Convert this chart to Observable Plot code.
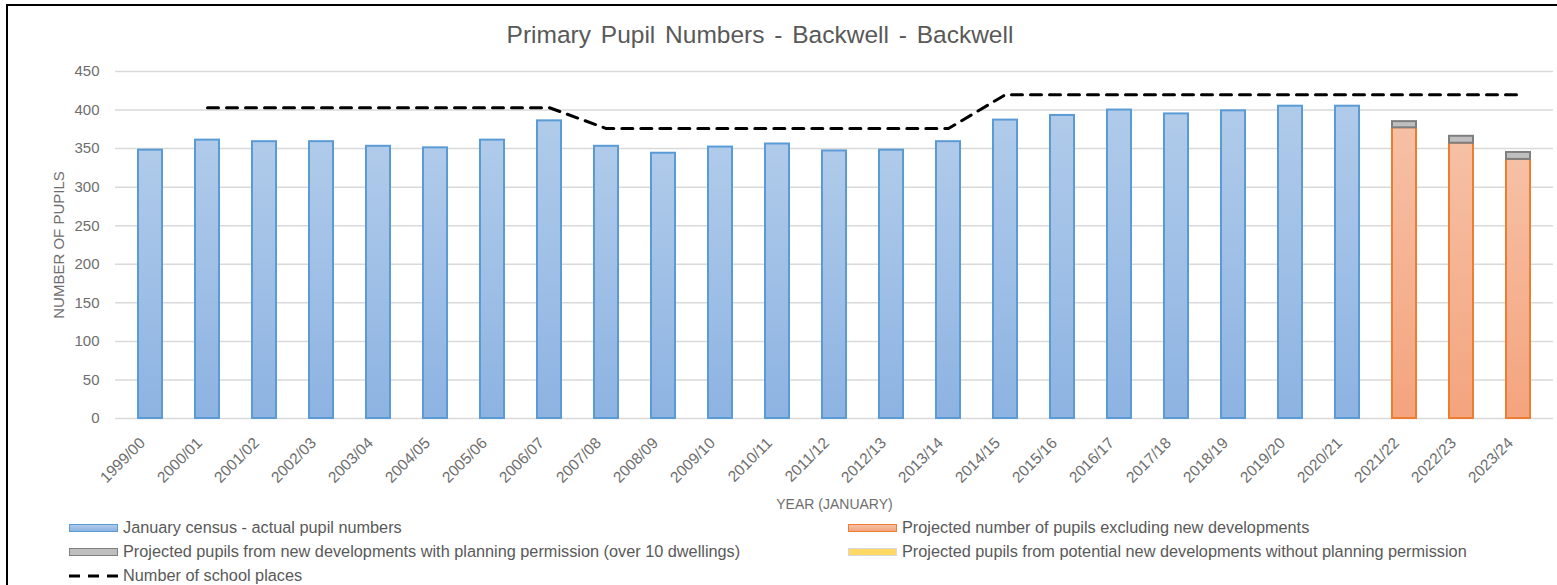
<!DOCTYPE html>
<html>
<head>
<meta charset="utf-8">
<script src="https://cdn.jsdelivr.net/npm/d3@7"></script>
<script src="https://cdn.jsdelivr.net/npm/@observablehq/plot@0.6"></script>
<style>
  html, body { margin: 0; padding: 0; background: #fff; }
  body { width: 1557px; height: 585px; position: relative; overflow: hidden; font-family: "Liberation Sans", sans-serif; }
  #frame { position: absolute; left: 6px; top: 4px; width: 1560px; height: 600px; border-left: 2px solid #000; border-top: 2px solid #000; }
  #title { position: absolute; left: 0; top: 21px; width: 1520px; text-align: center; font-size: 24.5px; color: #595959; word-spacing: 3px; }
  #chart { position: absolute; left: 0; top: 60px; }
  .leg { position: absolute; font-size: 16.3px; color: #595959; white-space: nowrap; line-height: 18px; }
  .sw { position: absolute; width: 47px; height: 6px; }
</style>
</head>
<body>
<div id="frame"></div>
<div id="title">Primary Pupil Numbers - Backwell - Backwell</div>
<div id="chart"></div>
<div id="legend"></div>
<script>
const years = ["1999/00","2000/01","2001/02","2002/03","2003/04","2004/05","2005/06","2006/07","2007/08","2008/09","2009/10","2010/11","2011/12","2012/13","2013/14","2014/15","2015/16","2016/17","2017/18","2018/19","2019/20","2020/21","2021/22","2022/23","2023/24"];
const actual = [348,361,359,359,353,351,361,386,353,344,352,356,347,348,359,387,393,400,395,399,405,405,null,null,null];
const projected = [null,null,null,null,null,null,null,null,null,null,null,null,null,null,null,null,null,null,null,null,null,null,377,357,336];
const withPermission = [null,null,null,null,null,null,null,null,null,null,null,null,null,null,null,null,null,null,null,null,null,null,8,9,9];
const withoutPermission = [null,null,null,null,null,null,null,null,null,null,null,null,null,null,null,null,null,null,null,null,null,null,0,0,0];
const schoolPlaces = [null,403,403,403,403,403,403,403,376,376,376,376,376,376,376,420,420,420,420,420,420,420,420,420,420];
const yTicks = [0,50,100,150,200,250,300,350,400,450];

const seriesLabels = {
  actual: "January census - actual pupil numbers",
  projected: "Projected number of pupils excluding new developments",
  withPermission: "Projected pupils from new developments with planning permission (over 10 dwellings)",
  withoutPermission: "Projected pupils from potential new developments without planning permission",
  places: "Number of school places"
};
const fills = {actual: "url(#gBlue)", projected: "url(#gOrange)", withPermission: "#bfbfbf", withoutPermission: "#ffd966"};
const strokes = {actual: "#5b9bd5", projected: "#ed7d31", withPermission: "#7f7f7f", withoutPermission: "#d9d9d9"};

const rows = [];
years.forEach((year, i) => {
  const add = (series, v) => { if (v != null && v > 0) rows.push({year, series, value: v}); };
  add("actual", actual[i]);
  add("projected", projected[i]);
  add("withPermission", withPermission[i]);
  add("withoutPermission", withoutPermission[i]);
});
const placeRows = years.map((year, i) => ({year, value: schoolPlaces[i]}));

const txt = "#6e6e6e";
const chart = Plot.plot({
  width: 1557,
  height: 455,
  marginLeft: 115,
  marginRight: 4,
  marginTop: 11,
  marginBottom: 97,
  style: {fontFamily: "'Liberation Sans', sans-serif", background: "transparent", overflow: "visible"},
  x: {type: "band", domain: years, paddingInner: 0.583, paddingOuter: 0.296},
  y: {domain: [0, 450]},
  marks: [
    Plot.gridY(yTicks, {stroke: "#d9d9d9", strokeOpacity: 1, strokeWidth: 1.5}),
    Plot.barY(rows, {x: "year", y: "value", fill: d => fills[d.series], stroke: d => strokes[d.series], strokeWidth: 2}),
    Plot.lineY(placeRows, {x: "year", y: "value", stroke: "#000", strokeWidth: 3, strokeDasharray: "11 8"}),
    Plot.axisY(yTicks, {tickSize: 0, tickPadding: 16, fontSize: 15, color: txt, label: null}),
    Plot.axisY([], {label: "NUMBER OF PUPILS", labelAnchor: "center", labelOffset: 62, labelArrow: "none", fontSize: 15, color: txt}),
    Plot.axisX({tickSize: 0, tickPadding: 22, tickRotate: -45, fontSize: 15.5, dx: -8, color: txt, label: null}),
    Plot.axisX([], {label: "YEAR (JANUARY)", labelAnchor: "center", labelOffset: 90, labelArrow: "none", fontSize: 14, color: txt})
  ]
});
const defs = d3.select(chart).insert("defs", ":first-child");
const grad = (id, top, bottom) => {
  const g = defs.append("linearGradient").attr("id", id).attr("x1", 0).attr("y1", 0).attr("x2", 0).attr("y2", 1);
  g.append("stop").attr("offset", "0%").attr("stop-color", top);
  g.append("stop").attr("offset", "100%").attr("stop-color", bottom);
};
grad("gBlue", "#b0cbea", "#8db3e2");
grad("gOrange", "#f6c0a5", "#f4a47e");
document.getElementById("chart").appendChild(chart);

// Legend
const legend = document.getElementById("legend");
const items = [
  {key: "actual", x: 69, y: 528},
  {key: "projected", x: 848, y: 528},
  {key: "withPermission", x: 69, y: 552},
  {key: "withoutPermission", x: 848, y: 552},
  {key: "places", x: 69, y: 576}
];
items.forEach(it => {
  if (it.key === "places") {
    const s = document.createElementNS("http://www.w3.org/2000/svg", "svg");
    s.setAttribute("width", 50); s.setAttribute("height", 6);
    s.style.position = "absolute"; s.style.left = it.x + "px"; s.style.top = (it.y - 3) + "px";
    s.innerHTML = '<line x1="0" y1="3" x2="50" y2="3" stroke="#000" stroke-width="3" stroke-dasharray="11 8"/>';
    legend.appendChild(s);
  } else {
    const sw = document.createElement("div");
    sw.className = "sw";
    sw.style.left = it.x + "px"; sw.style.top = (it.y - 4) + "px";
    sw.style.background = fills[it.key].startsWith("url") ? (it.key === "actual" ? "linear-gradient(#b0cbea,#8db3e2)" : "linear-gradient(#f6c0a5,#f4a47e)") : fills[it.key];
    sw.style.border = "1.5px solid " + strokes[it.key];
    legend.appendChild(sw);
  }
  const t = document.createElement("div");
  t.className = "leg";
  t.style.left = (it.x + 54) + "px";
  t.style.top = (it.y - 10) + "px";
  t.textContent = seriesLabels[it.key];
  legend.appendChild(t);
});
</script>
</body>
</html>
